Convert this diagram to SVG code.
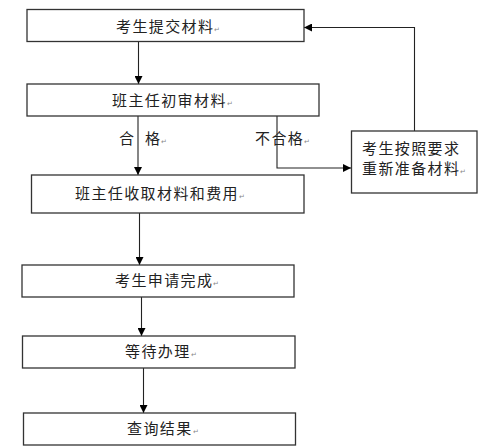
<svg xmlns="http://www.w3.org/2000/svg" width="494" height="448" viewBox="0 0 494 448">
<defs>
<style>
.box{fill:#fff;stroke:#333;stroke-width:1.3}
.t{font-family:"Noto Sans CJK SC","Noto Sans",sans-serif;font-size:15px;letter-spacing:1.4px;fill:#222}
.pm{font-size:7px;fill:#888;letter-spacing:0}
.ln{fill:none;stroke:#222;stroke-width:1.1}
</style>
<marker id="ah" viewBox="0 0 10 10" refX="10" refY="5" markerWidth="8" markerHeight="8" markerUnits="userSpaceOnUse" orient="auto">
<path d="M0,0 L10,5 L0,10 z" fill="#000"/>
</marker>
</defs>
<rect width="494" height="448" fill="#fff"/>
<g id="connectors">
<line class="ln" x1="138.5" y1="41" x2="138.5" y2="84" marker-end="url(#ah)"/>
<line class="ln" x1="138" y1="116" x2="138" y2="175" marker-end="url(#ah)"/>
<polyline class="ln" points="277,116 277,168 351,168" marker-end="url(#ah)"/>
<polyline class="ln" points="414.5,131 414.5,27.5 304,27.5" marker-end="url(#ah)"/>
<line class="ln" x1="139.5" y1="213" x2="139.5" y2="265" marker-end="url(#ah)"/>
<line class="ln" x1="141.5" y1="297" x2="141.5" y2="336" marker-end="url(#ah)"/>
<line class="ln" x1="143.5" y1="368" x2="143.5" y2="413" marker-end="url(#ah)"/>
<text class="t" x="119" y="143.5">合<tspan x="145">格</tspan><tspan class="pm">↵</tspan></text>
<text class="t" x="255" y="143.5">不合格<tspan class="pm">↵</tspan></text>
</g>
<g id="n1"><rect class="box" x="27" y="9.5" width="277" height="32"/><text class="t" x="116" y="31.5">考生提交材料<tspan class="pm">↵</tspan></text></g>
<g id="n2"><rect class="box" x="27" y="84" width="292" height="32"/><text class="t" x="112" y="105.5">班主任初审材料<tspan class="pm">↵</tspan></text></g>
<g id="n7"><rect class="box" x="351.5" y="131" width="125.5" height="62"/><text class="t" x="362" y="153.5">考生按照要求</text><text class="t" x="362" y="173.5">重新准备材料<tspan class="pm">↵</tspan></text></g>
<g id="n3"><rect class="box" x="31.5" y="175" width="272.5" height="38"/><text class="t" x="75" y="199">班主任收取材料和费用<tspan class="pm">↵</tspan></text></g>
<g id="n4"><rect class="box" x="22" y="265" width="272" height="32"/><text class="t" x="115" y="286">考生申请完成<tspan class="pm">↵</tspan></text></g>
<g id="n5"><rect class="box" x="22.5" y="336" width="272.5" height="32"/><text class="t" x="125" y="357">等待办理<tspan class="pm">↵</tspan></text></g>
<g id="n6"><rect class="box" x="23.5" y="413" width="272" height="32"/><text class="t" x="127" y="434">查询结果<tspan class="pm">↵</tspan></text></g>
</svg>
